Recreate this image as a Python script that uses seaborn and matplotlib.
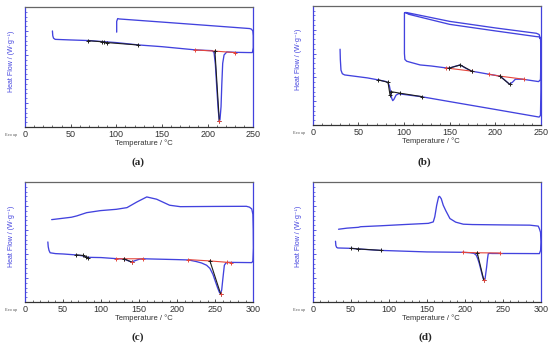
import matplotlib
matplotlib.use("Agg")
import matplotlib.pyplot as plt
from matplotlib.ticker import MultipleLocator
import seaborn as sns

sns.set_theme(style="white")
plt.rcParams["font.family"] = ["Liberation Sans", "DejaVu Sans"]

BLUE = "#4242de"
RED = "#e5463c"
BLACK = "#1e1e1e"

# ---- (a): heating 30 -> 250, cooling 250 -> 100 ----
a_T = [30, 30.4, 31.2, 33, 50, 70, 100, 125, 150, 187, 205, 207, 208.5, 210, 211.5,
       212.8, 213.5, 214.7, 215.5, 216.5, 218, 221, 230, 245, 249, 250, 250, 249.5,
       248, 246, 200, 150, 103, 101.5, 100.4, 100.4]
a_hf = [0.80, 0.76, 0.74, 0.73, 0.725, 0.72, 0.703, 0.683, 0.669, 0.642, 0.636, 0.62,
        0.52, 0.33, 0.15, 0.05, 0.06, 0.17, 0.35, 0.53, 0.60, 0.625, 0.622, 0.62, 0.62,
        0.66, 0.76, 0.80, 0.815, 0.82, 0.846, 0.874, 0.90, 0.903, 0.88, 0.79]
a_black_T = [69, 84, 86.5, 90, 124]
a_black_hf = [0.719, 0.71, 0.707, 0.703, 0.683]
a_red_T = [186, 208, 230]
a_red_hf = [0.642, 0.632, 0.620]
a_peak_T = [208, 212.8]
a_peak_hf = [0.632, 0.05]

# ---- (b): two heating / cooling cycles ----
b_T = [30, 30.3, 31, 32.5, 35, 50, 60, 72, 80, 82.5, 84, 85.5, 86.5, 87.7, 89, 91.3,
       94, 100, 120, 150, 200, 248, 249.5, 250, 250, 249.6, 248,
       245, 200, 150, 105, 102, 100.5,
       100.5, 101, 103, 106.7, 117.6, 130, 146, 149, 155, 161.6, 168, 174, 190, 205,
       210, 215.6, 219, 222, 230, 247.4, 249.5, 250, 249.7, 248,
       245, 200, 150, 103, 101]
b_hf = [0.636, 0.55, 0.46, 0.43, 0.42, 0.405, 0.395, 0.378, 0.365, 0.355, 0.33, 0.27,
        0.225, 0.204, 0.215, 0.25, 0.262, 0.256, 0.236, 0.196, 0.13, 0.066, 0.08, 0.3,
        0.6, 0.72, 0.74,
        0.742, 0.79, 0.845, 0.93, 0.944, 0.94,
        0.60, 0.55, 0.535, 0.527, 0.504, 0.495, 0.479, 0.476, 0.49, 0.504, 0.475,
        0.452, 0.43, 0.41, 0.38, 0.342, 0.36, 0.384, 0.384, 0.364, 0.38, 0.55, 0.72,
        0.76,
        0.77, 0.815, 0.87, 0.944, 0.944]
b_black1_T = [72, 82.5, 84.7]
b_black1_hf = [0.378, 0.358, 0.252]
b_black2_T = [85.5, 96, 119.5]
b_black2_hf = [0.28, 0.266, 0.238]
b_red1_T = [146, 149, 174]
b_red1_hf = [0.479, 0.476, 0.452]
b_bump_T = [149, 161.6, 174]
b_bump_hf = [0.476, 0.504, 0.452]
b_red2_T = [192.6, 205, 231]
b_red2_hf = [0.426, 0.41, 0.384]
b_dip_T = [205, 215.6]
b_dip_hf = [0.41, 0.342]

# ---- (c): heating 30 -> 300, cooling 300 -> 35 ----
c_T = [30, 30.5, 31.5, 33, 40, 50, 67, 75, 80, 83, 100, 120, 130, 135, 140, 145, 150,
       155, 200, 215, 225, 232, 238.7, 243, 247, 249.7, 253, 255.5, 257, 258.5, 259.8,
       261, 262, 264, 268, 298, 299.5, 300.2, 300, 299.5, 298, 295,
       291, 250, 204, 190, 173, 160, 147, 134, 120, 99, 81, 68, 61, 35]
c_hf = [0.50, 0.46, 0.43, 0.41, 0.403, 0.40, 0.392, 0.385, 0.375, 0.372, 0.37, 0.361,
        0.358, 0.345, 0.333, 0.345, 0.356, 0.36, 0.353, 0.35, 0.337, 0.325, 0.306, 0.28,
        0.23, 0.18, 0.12, 0.08, 0.07, 0.10, 0.18, 0.25, 0.306, 0.325, 0.33, 0.328, 0.34,
        0.45, 0.60, 0.73, 0.775, 0.79,
        0.797, 0.796, 0.794, 0.806, 0.856, 0.875, 0.833, 0.786, 0.772, 0.761, 0.744,
        0.717, 0.706, 0.686]
c_black_T = [67, 76, 80, 83]
c_black_hf = [0.392, 0.388, 0.375, 0.37]
c_red1_T = [120, 130, 155]
c_red1_hf = [0.361, 0.36, 0.36]
c_dip_T = [130, 140]
c_dip_hf = [0.36, 0.333]
c_red2_T = [214.6, 243, 265, 270.3]
c_red2_hf = [0.353, 0.342, 0.331, 0.328]
c_peak_T = [243, 257]
c_peak_hf = [0.342, 0.07]

# ---- (d): heating 30 -> 300, cooling 300 -> 34 ----
d_T = [30, 30.5, 31.5, 33, 50, 60, 88, 150, 197, 207, 212, 215, 217, 219, 221, 223,
       225, 226.5, 228.6, 229.8, 230.8, 233, 236, 260, 298, 299.6, 300, 299.5, 298,
       296.5, 285.5, 250, 210, 198, 188, 180.4, 175, 171.6, 169, 167, 166.4, 165.5, 163,
       160.5, 158.5, 152, 120, 90, 63, 60, 45, 34]
d_hf = [0.506, 0.47, 0.455, 0.45, 0.447, 0.442, 0.43, 0.417, 0.414, 0.41, 0.405, 0.39,
        0.36, 0.32, 0.27, 0.22, 0.18, 0.19, 0.29, 0.36, 0.403, 0.405, 0.404, 0.404,
        0.403, 0.43, 0.50, 0.58, 0.61, 0.632, 0.64, 0.642, 0.645, 0.648, 0.665, 0.695,
        0.76, 0.806, 0.86, 0.878, 0.88, 0.875, 0.806, 0.71, 0.667, 0.655, 0.645, 0.635,
        0.627, 0.622, 0.615, 0.606]
d_black_T = [51, 59, 90]
d_black_hf = [0.447, 0.442, 0.43]
d_red_T = [197, 216.3, 246]
d_red_hf = [0.414, 0.41, 0.408]
d_peak_T = [216.3, 225]
d_peak_hf = [0.41, 0.18]


def segment(ax, T, hf, color):
    sns.lineplot(x=T, y=hf, sort=False, estimator=None, color=color, lw=0.8,
                 marker="+", markersize=3, markeredgewidth=0.7, markeredgecolor=color,
                 ax=ax)


def panel(fig, rect, xmax, T, hf, blacks, reds, peaks, letter, letter_xy):
    ax = fig.add_axes(rect)
    sns.lineplot(x=T, y=hf, sort=False, estimator=None, color=BLUE, lw=0.95, ax=ax)
    for sT, shf in reds:
        segment(ax, sT, shf, RED)
    for sT, shf in blacks:
        segment(ax, sT, shf, BLACK)
    for pT, phf in peaks:
        ax.plot(pT, phf, ls="none", marker="+", ms=3, mew=0.7, color=RED)

    ax.set_xlim(0, xmax)
    ax.set_ylim(0, 1)
    ax.xaxis.set_major_locator(MultipleLocator(50))
    ax.xaxis.set_minor_locator(MultipleLocator(10))
    ax.yaxis.set_major_locator(MultipleLocator(0.2))
    ax.yaxis.set_minor_locator(MultipleLocator(0.04))
    ax.tick_params(axis="x", which="both", direction="in", bottom=True, top=False,
                   labelsize=6.5, pad=2, color="#333333", labelcolor="#333333")
    ax.tick_params(axis="x", which="major", length=2.5, width=0.6)
    ax.tick_params(axis="x", which="minor", length=1.5, width=0.5)
    ax.tick_params(axis="y", which="both", direction="in", left=True, right=False,
                   labelleft=False, color=BLUE)
    ax.tick_params(axis="y", which="major", length=2.5, width=0.6)
    ax.tick_params(axis="y", which="minor", length=1.5, width=0.5)

    for side, col in [("left", BLUE), ("right", BLUE), ("top", "#666666"),
                      ("bottom", "#333333")]:
        ax.spines[side].set_color(col)
        ax.spines[side].set_linewidth(0.9)

    ax.set_xlabel("Temperature / °C", fontsize=5.5, color="#333333")
    ax.xaxis.set_label_coords(0.52, -0.1)
    ax.set_ylabel("Heat Flow / (W·g⁻¹)", fontsize=5, color=BLUE)
    ax.yaxis.set_label_coords(-0.045, 0.55)
    ax.text(-0.06, -0.065, "Exo up", fontsize=2.8, color="#555555",
            ha="center", va="center", transform=ax.transAxes)
    fig.text(letter_xy[0], letter_xy[1], letter, fontsize=8, fontweight="bold",
             family="Liberation Serif", ha="center", va="center")
    return ax


fig = plt.figure(figsize=(5.5, 3.47), dpi=100)

panel(fig, [0.0455, 0.634, 0.415, 0.346], 250, a_T, a_hf,
      [(a_black_T, a_black_hf), (a_peak_T, a_peak_hf)],
      [(a_red_T, a_red_hf)], [(a_peak_T[-1:], a_peak_hf[-1:])],
      "(a)", (0.251, 0.533))

panel(fig, [0.5685, 0.640, 0.415, 0.343], 250, b_T, b_hf,
      [(b_black1_T, b_black1_hf), (b_black2_T, b_black2_hf),
       (b_bump_T, b_bump_hf), (b_dip_T, b_dip_hf)],
      [(b_red1_T, b_red1_hf), (b_red2_T, b_red2_hf)], [],
      "(b)", (0.771, 0.533))

panel(fig, [0.0455, 0.1297, 0.415, 0.346], 300, c_T, c_hf,
      [(c_black_T, c_black_hf), (c_dip_T, c_dip_hf), (c_peak_T, c_peak_hf)],
      [(c_red1_T, c_red1_hf), (c_red2_T, c_red2_hf)],
      [(c_dip_T[-1:], c_dip_hf[-1:]), (c_peak_T[-1:], c_peak_hf[-1:])],
      "(c)", (0.251, 0.029))

panel(fig, [0.5685, 0.1297, 0.415, 0.346], 300, d_T, d_hf,
      [(d_black_T, d_black_hf), (d_peak_T, d_peak_hf)],
      [(d_red_T, d_red_hf)], [(d_peak_T[-1:], d_peak_hf[-1:])],
      "(d)", (0.773, 0.029))

fig.savefig("out.png", dpi=100)
